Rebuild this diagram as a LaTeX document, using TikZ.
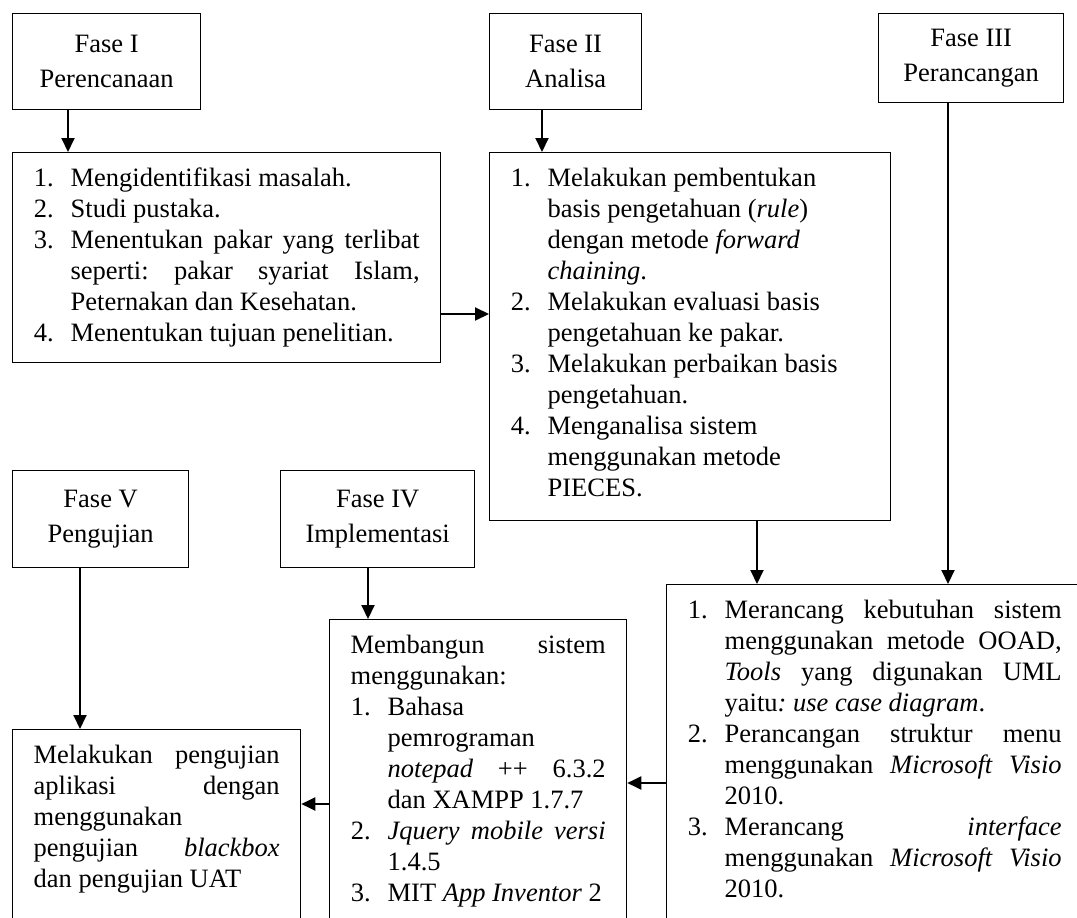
\documentclass[tikz,border=0pt]{standalone}
\usepackage{fontspec}
\setmainfont{Liberation Serif}
\usetikzlibrary{arrows.meta}

\hyphenpenalty=10000 \exhyphenpenalty=10000 \hbadness=10000
\frenchspacing

\newenvironment{daftar}{%
  \begin{list}{\arabic{enumi}.}{\usecounter{enumi}%
    \setlength{\leftmargin}{37pt}\setlength{\labelwidth}{20pt}%
    \setlength{\labelsep}{17pt}\setlength{\itemsep}{0pt}%
    \setlength{\parsep}{0pt}\setlength{\topsep}{0pt}%
    \setlength{\partopsep}{0pt}\setlength{\itemindent}{0pt}}}%
  {\end{list}}
\newcommand{\isi}[3]{\parbox[t][#1][t]{#2}{\vspace*{15pt}#3}}

\tikzset{
  fase/.style={draw,line width=1.3pt,align=center,anchor=north west,inner sep=0pt},
  kotak/.style={draw,line width=1.3pt,anchor=north west,inner xsep=21pt,inner ysep=0pt},
  panah/.style={-{Triangle[length=14pt,width=13pt]},line width=2pt}
}

\begin{document}
\begin{tikzpicture}[x=1pt,y=-1pt,font=\fontsize{26.5pt}{31pt}\selectfont]
  \useasboundingbox (0,0) rectangle (1077,918);
  \clip (0,0) rectangle (1077,918);
  % fase
  \node[fase,minimum width=188pt,minimum height=96pt] (f1) at (12,13) {Fase I\\[4pt]Perencanaan};
  \node[fase,minimum width=152pt,minimum height=96pt] (f2) at (489,13) {Fase II\\[4pt]Analisa};
  \node[fase,minimum width=185pt,minimum height=89pt] (f3) at (878,13) {Fase III\\[4pt]Perancangan};
  \node[fase,minimum width=194pt,minimum height=97pt] (f4) at (280,470) {Fase IV\\[4pt]Implementasi};
  \node[fase,minimum width=176pt,minimum height=97pt] (f5) at (12,470) {Fase V\\[4pt]Pengujian};
  % isi tiap fase
  \node[kotak] (p1) at (12,152) {\isi{210pt}{386pt}{\begin{daftar}
    \item Mengidentifikasi masalah.
    \item Studi pustaka.
    \item Menentukan pakar yang terlibat\linebreak seperti: pakar syariat Islam,\linebreak Peternakan dan Kesehatan.
    \item Menentukan tujuan penelitian.
  \end{daftar}}};
  \node[kotak] (p2) at (489,152) {\isi{368pt}{359pt}{\raggedright\begin{daftar}
    \item Melakukan pembentukan\newline basis pengetahuan (\textit{rule})\newline dengan metode \textit{forward}\newline \textit{chaining}.
    \item Melakukan evaluasi basis\newline pengetahuan ke pakar.
    \item Melakukan perbaikan basis\newline pengetahuan.
    \item Menganalisa sistem\newline menggunakan metode\newline PIECES.
  \end{daftar}}};
  \node[kotak] (p3) at (666,584) {\isi{350pt}{374pt}{\begin{daftar}
    \item Merancang kebutuhan sistem\linebreak menggunakan metode OOAD,\linebreak \textit{Tools} yang digunakan UML\linebreak yaitu\textit{: use case diagram}.
    \item Perancangan struktur menu\linebreak menggunakan \textit{Microsoft Visio}\linebreak 2010.
    \item Merancang \textit{interface}\linebreak menggunakan \textit{Microsoft Visio}\linebreak 2010.
  \end{daftar}}};
  \node[kotak] (p4) at (329,619) {\isi{320pt}{255pt}{Membangun sistem\linebreak menggunakan:
  \begin{daftar}
    \item Bahasa\newline pemrograman\newline \textit{notepad} ++ 6.3.2\linebreak dan XAMPP 1.7.7
    \item \textit{Jquery mobile versi}\linebreak 1.4.5
    \item MIT \textit{App Inventor} 2
  \end{daftar}}};
  \node[kotak] (p5) at (12,729) {\isi{210pt}{246pt}{Melakukan pengujian\linebreak aplikasi dengan\linebreak menggunakan\newline pengujian \textit{blackbox}\linebreak dan pengujian UAT}};
  % panah
  \draw[panah] ([xshift=56pt]f1.south west) -- ([xshift=56pt]p1.north west);
  \draw[panah] ([xshift=53pt]f2.south west) -- ([xshift=53pt]p2.north west);
  \draw[panah] ([yshift=-162pt]p1.north east) -- ([yshift=-162pt]p1.north east -| p2.west);
  \draw[panah] ([xshift=70pt]f3.south west) -- ([xshift=70pt]f3.south west |- p3.north);
  \draw[panah] ([xshift=268pt]p2.south west) -- ([xshift=268pt]p2.south west |- p3.north);
  \draw[panah] ([xshift=88pt]f4.south west) -- ([xshift=88pt]f4.south west |- p4.north);
  \draw[panah] ([xshift=68pt]f5.south west) -- ([xshift=68pt]f5.south west |- p5.north);
  \draw[panah] ([yshift=-199pt]p3.north west) -- ([yshift=-199pt]p3.north west -| p4.east);
  \draw[panah] ([yshift=-185pt]p4.north west) -- ([yshift=-185pt]p4.north west -| p5.east);
\end{tikzpicture}
\end{document}
